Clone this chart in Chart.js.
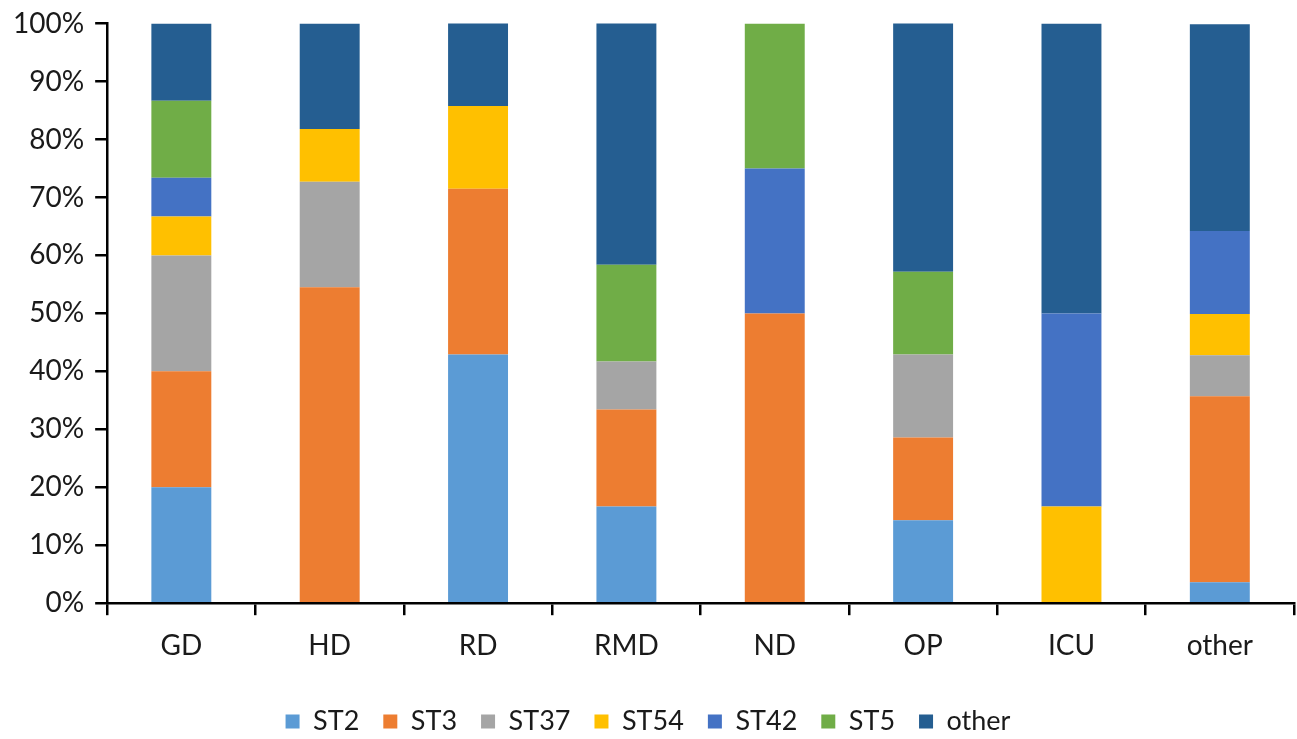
<!DOCTYPE html>
<html>
<head>
<meta charset="utf-8">
<script src="https://cdn.jsdelivr.net/npm/chart.js@4/dist/chart.umd.min.js"></script>
<style>
  html, body { margin: 0; padding: 0; background: #fff; }
  #wrap { width: 1297px; height: 739px; }
</style>
</head>
<body>
<div id="wrap"><canvas id="stChart"></canvas></div>
<script>
// wards on the x axis
const categories = ['GD', 'HD', 'RD', 'RMD', 'ND', 'OP', 'ICU', 'other'];

// share of each sequence type per ward (%)
const st2   = [20,   0,    42.9, 16.7, 0,  14.3, 0,    3.6];
const st3   = [20,   54.5, 28.6, 16.7, 50, 14.3, 0,    32.1];
const st37  = [20,   18.2, 0,    8.3,  0,  14.3, 0,    7.1];
const st54  = [6.7,  9.1,  14.3, 0,    0,  0,    16.7, 7.1];
const st42  = [6.7,  0,    0,    0,    25, 0,    33.3, 14.3];
const st5   = [13.3, 0,    0,    16.7, 25, 14.3, 0,    0];
const other = [13.3, 18.2, 14.3, 41.7, 0,  42.9, 50,   35.7];

const yTicks = [0, 10, 20, 30, 40, 50, 60, 70, 80, 90, 100];

const textColor = '#1a1a1a';
const fontFamily = 'Lato, "Open Sans", sans-serif';

document.addEventListener('DOMContentLoaded', function () {
    const ctx = document.getElementById('stChart').getContext('2d');
    const barPct = 0.404;
    const series = [
        { label: 'ST2',   data: st2,   color: '#5B9BD5' },
        { label: 'ST3',   data: st3,   color: '#ED7D31' },
        { label: 'ST37',  data: st37,  color: '#A5A5A5' },
        { label: 'ST54',  data: st54,  color: '#FFC000' },
        { label: 'ST42',  data: st42,  color: '#4472C4' },
        { label: 'ST5',   data: st5,   color: '#70AD47' },
        { label: 'other', data: other, color: '#255E91' }
    ];

    new Chart(ctx, {
        type: 'bar',
        data: {
            labels: categories,
            datasets: series.map(s => ({
                label: s.label,
                data: s.data,
                backgroundColor: s.color,
                borderWidth: 0,
                categoryPercentage: 1,
                barPercentage: barPct
            }))
        },
        options: {
            responsive: true,
            maintainAspectRatio: false,
            animation: false,
            layout: { padding: { left: 2, right: 3, top: 0, bottom: -6 } },
            plugins: {
                tooltip: { enabled: false },
                legend: {
                    position: 'bottom',
                    title: { display: true, text: ' ', font: { size: 6 }, padding: 0 },
                    labels: {
                        boxWidth: 14,
                        boxHeight: 14,
                        padding: 24,
                        color: textColor,
                        font: { family: fontFamily, size: 27 }
                    }
                }
            },
            scales: {
                x: {
                    stacked: true,
                    grid: {
                        display: true,
                        drawOnChartArea: false,
                        drawTicks: true,
                        tickLength: 12,
                        color: '#000',
                        lineWidth: 2.5,
                        offset: true
                    },
                    border: { display: true, color: '#000', width: 2.5 },
                    ticks: {
                        color: textColor,
                        padding: 14,
                        maxRotation: 0,
                        font: { family: fontFamily, size: 28 }
                    }
                },
                y: {
                    stacked: true,
                    min: 0,
                    max: 100,
                    afterBuildTicks: axis => { axis.ticks = yTicks.map(v => ({ value: v })); },
                    grid: {
                        display: true,
                        drawOnChartArea: false,
                        drawTicks: true,
                        tickLength: 12,
                        color: '#000',
                        lineWidth: 2.5
                    },
                    border: { display: true, color: '#000', width: 2.5 },
                    ticks: {
                        color: textColor,
                        padding: 11,
                        font: { family: fontFamily, size: 28, lineHeight: 0.9 },
                        callback: v => v + '%'
                    }
                }
            }
        }
    });
});
</script>
</body>
</html>
